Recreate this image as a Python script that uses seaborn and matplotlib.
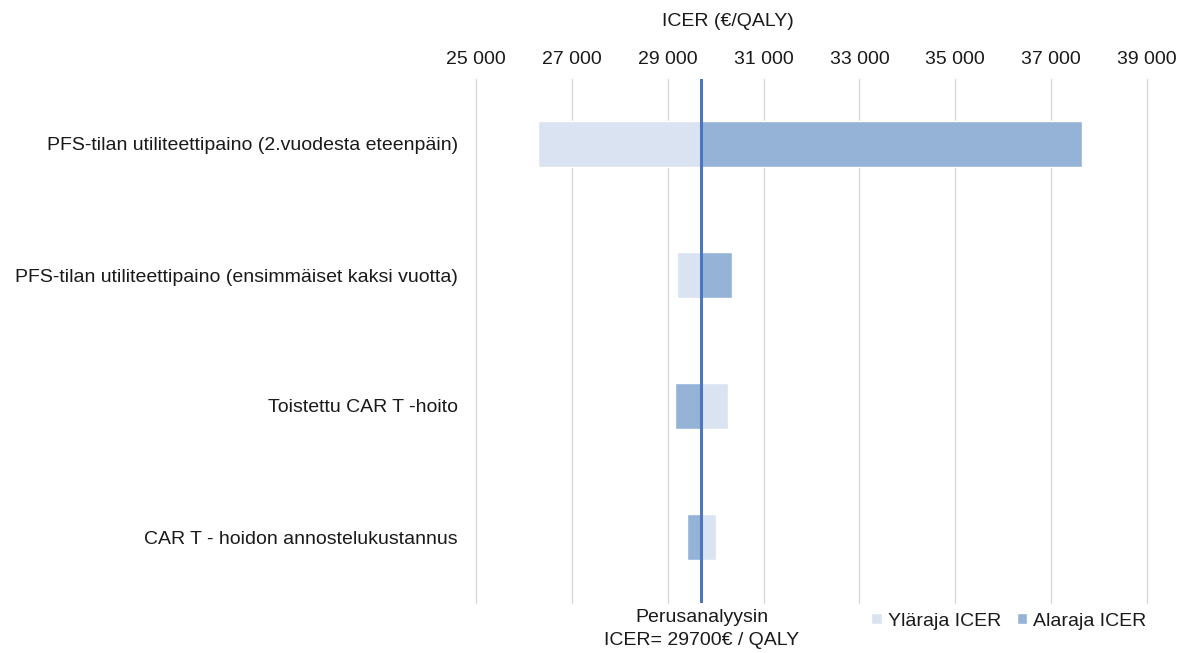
import matplotlib
matplotlib.use("Agg")
import matplotlib.pyplot as plt
from matplotlib.patches import Patch
from matplotlib.ticker import FuncFormatter, FixedLocator
import seaborn as sns
import numpy as np

# Tornado data: ICER at the upper/lower bound of each varied parameter
categories = [
    "PFS-tilan utiliteettipaino (2.vuodesta eteenpäin)",
    "PFS-tilan utiliteettipaino (ensimmäiset kaksi vuotta)",
    "Toistettu CAR T -hoito",
    "CAR T - hoidon annostelukustannus",
]
ylaraja_icer = [26300, 29200, 30250, 30000]
alaraja_icer = [37650, 30350, 29150, 29400]
base_icer = 29700
x_ticks = [25000, 27000, 29000, 31000, 33000, 35000, 37000, 39000]

sns.set_theme(style="white")
plt.rcParams["font.family"] = ["Liberation Sans", "DejaVu Sans"]

light = "#DAE3F1"
dark = "#95B3D7"
line_col = "#4A76C2"
text_col = "#1a1a1a"
fs = 14

fig = plt.figure(figsize=(11.88, 6.53), dpi=100)
ax = fig.add_axes([476 / 1188, 1 - 602.5 / 653, (1147 - 476) / 1188, (602.5 - 78.5) / 653])

y = np.arange(len(categories))
lo = np.array(ylaraja_icer) - base_icer
hi = np.array(alaraja_icer) - base_icer
ax.barh(y, lo, left=base_icer, height=0.35, color=light, zorder=2)
ax.barh(y, hi, left=base_icer, height=0.35, color=dark, zorder=2)
ax.axvline(base_icer, color=line_col, lw=2.2, zorder=3)

ax.set_xlim(x_ticks[0], x_ticks[-1])
ax.set_ylim(len(categories) - 0.5, -0.5)
ax.xaxis.set_major_locator(FixedLocator(x_ticks))
ax.xaxis.set_major_formatter(FuncFormatter(lambda v, p: f"{int(v):,}".replace(",", " ")))
ax.xaxis.tick_top()
ax.set_yticks(y)
ax.set_yticklabels(categories)
ax.tick_params(axis="x", length=0, pad=7.5, labelsize=fs, colors=text_col)
ax.tick_params(axis="y", length=0, pad=13, labelsize=fs, colors=text_col)
ax.grid(axis="x", color="#D9D9D9", lw=1.0, zorder=0)
ax.grid(axis="y", visible=False)
for gl in ax.get_xgridlines():
    gl.set_clip_on(False)
for s in ax.spines.values():
    s.set_visible(False)

fig.text(728 / 1188, 1 - 21 / 653, "ICER (€/QALY)", ha="center", va="center",
         fontsize=fs, color=text_col)
fig.text(702 / 1188, 1 - 629 / 653, "Perusanalyysin\nICER= 29700€ / QALY", ha="center",
         va="center", fontsize=fs, color=text_col, linespacing=1.4)

handles = [Patch(facecolor=light, label="Yläraja ICER"), Patch(facecolor=dark, label="Alaraja ICER")]
fig.legend(handles=handles, loc="center", bbox_to_anchor=(1009 / 1188, 1 - 621 / 653), ncol=2,
           frameon=False, fontsize=fs, handlelength=0.55, handleheight=0.55, handletextpad=0.3,
           columnspacing=0.8, labelcolor=text_col)

fig.savefig("out.png", dpi=100)
